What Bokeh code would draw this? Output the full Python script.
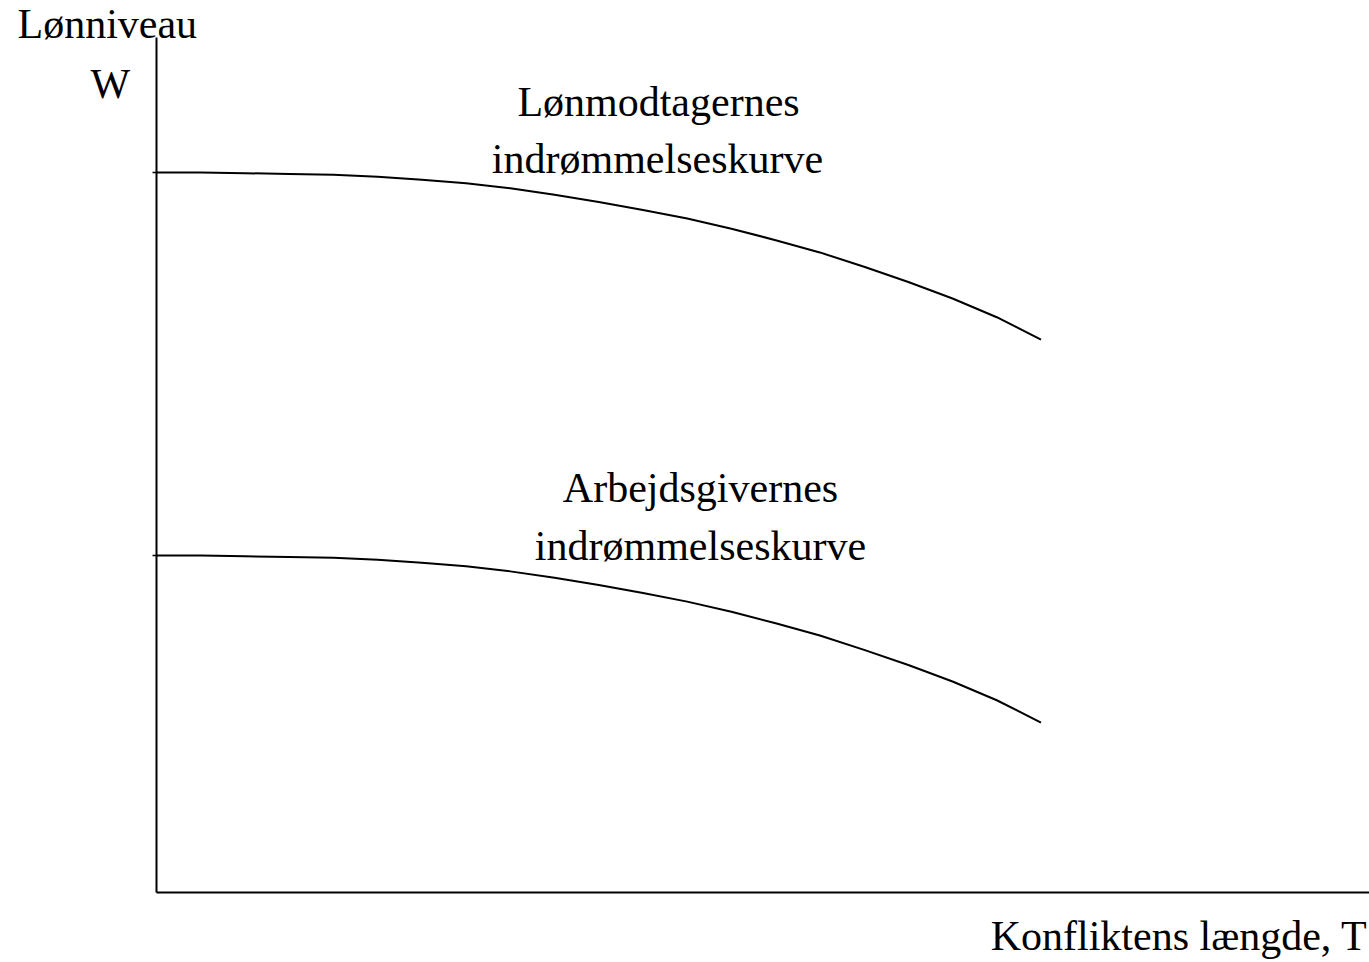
from bokeh.plotting import figure
from bokeh.embed import file_html
from bokeh.resources import INLINE
from bokeh.core.properties import value
from bokeh.models import Range1d

# ---- data ----
T = [0, 0.5, 1, 1.5, 2, 2.5, 3, 3.5, 4, 4.5, 5, 5.5, 6, 6.5, 7, 7.5, 8, 8.5, 9, 9.5, 10]
W_workers = [10.0, 10.0, 9.99, 9.98, 9.97, 9.94, 9.90, 9.85, 9.78, 9.69, 9.59,
             9.48, 9.36, 9.22, 9.06, 8.89, 8.69, 8.48, 8.25, 7.99, 7.68]
W_employers = [4.68, 4.68, 4.67, 4.66, 4.65, 4.62, 4.58, 4.53, 4.46, 4.37, 4.27,
               4.16, 4.04, 3.90, 3.74, 3.57, 3.37, 3.16, 2.93, 2.67, 2.36]
y_ticks = [W_workers[0], W_employers[0]]

y_label_1 = "Lønniveau"
y_label_2 = "W"
x_label = "Konfliktens længde, T"
upper_label = ["Lønmodtagernes", "indrømmelseskurve"]
lower_label = ["Arbejdsgivernes", "indrømmelseskurve"]

# ---- layout ----
W_PX, H_PX = 1369, 962
ORIG_X, ORIG_Y = 156, 892      # px of the origin in the picture
KX, KY = 88.45, 72.0           # px per data unit
TXT_SHIFT = 14                 # baseline correction for text glyphs

def dx(px):
    return (px - ORIG_X) / KX

def dy(py):
    return (ORIG_Y - py) / KY

def ty(py):
    return dy(py - TXT_SHIFT)

p = figure(width=W_PX, height=H_PX, output_backend="svg", toolbar_location=None,
           x_axis_type=None, y_axis_type=None, min_border=0,
           x_range=Range1d(dx(0), dx(W_PX)),
           y_range=Range1d(dy(H_PX), dy(0)))
p.grid.visible = False
p.outline_line_color = None
p.background_fill_color = "white"
p.border_fill_color = "white"

# axes
p.segment(x0=[0], y0=[0], x1=[0], y1=[dy(37)], line_color="black", line_width=2)
p.segment(x0=[0], y0=[0], x1=[dx(W_PX + 5)], y1=[0], line_color="black", line_width=2)
# ticks on W axis
p.segment(x0=[dx(152)] * len(y_ticks), y0=y_ticks, x1=[0] * len(y_ticks), y1=y_ticks,
          line_color="black", line_width=1.5)

# curves
p.line(T, W_workers, line_color="black", line_width=2)
p.line(T, W_employers, line_color="black", line_width=2)

font = value("Liberation Serif")
fs = "42px"

def txt(x, y, s, align):
    p.text(x=[x], y=[y], text=[s], text_font=font, text_font_size=fs,
           text_align=align, text_baseline="alphabetic", text_color="black")

txt(dx(17), ty(37), y_label_1, "left")
txt(dx(90), ty(97), y_label_2, "left")
txt(dx(658), ty(115), upper_label[0], "center")
txt(dx(657), ty(172), upper_label[1], "center")
txt(dx(700), ty(501), lower_label[0], "center")
txt(dx(700), ty(559), lower_label[1], "center")
txt(dx(1367), ty(949), x_label, "right")

open("out.html", "w").write(file_html(p, INLINE))
